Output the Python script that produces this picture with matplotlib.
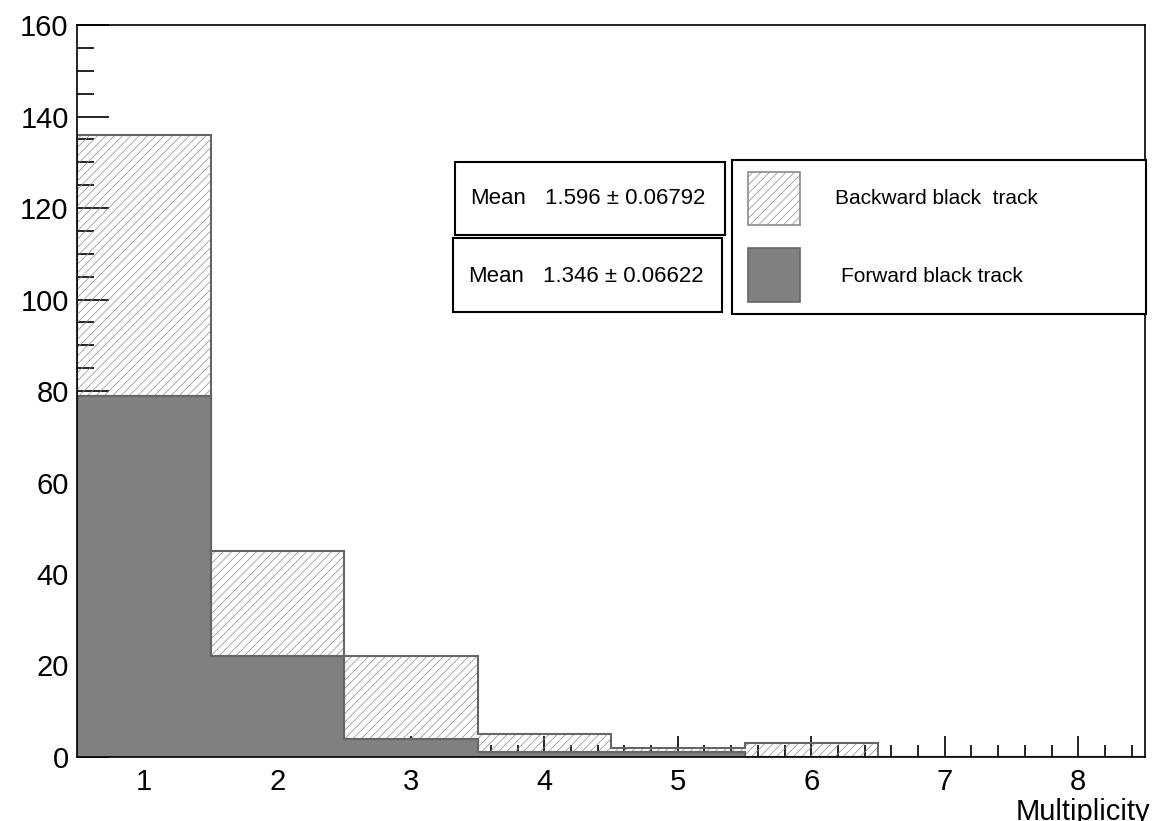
import numpy as np
import matplotlib.pyplot as plt
from matplotlib.patches import Rectangle
from matplotlib.ticker import MultipleLocator

plt.rcParams['font.family'] = ['Liberation Sans', 'DejaVu Sans']
plt.rcParams['hatch.linewidth'] = 0.5

# multiplicity bins 1..8
bins = [1, 2, 3, 4, 5, 6, 7, 8]
backward = [136, 45, 22, 5, 2, 3, 0, 0]
forward = [79, 22, 4, 1, 1, 0, 0, 0]
mean_back = "1.596"
err_back = "0.06792"
mean_fwd = "1.346"
err_fwd = "0.06622"

W, H = 1156, 821
fig = plt.figure(figsize=(W / 100, H / 100), dpi=100)
ax = fig.add_axes([77 / W, 1 - 757 / H, (1145 - 77) / W, (757 - 25) / H])

edges = np.arange(len(bins) + 1) + 0.5
ax.stairs(backward, edges, fill=True, facecolor='none', edgecolor='#8a8a8a',
          hatch='////', linewidth=0)
ax.stairs(backward, edges, color='#666666', linewidth=1.5)
ax.stairs(forward, edges, fill=True, facecolor='#808080', edgecolor='#666666',
          linewidth=1.5)
ax.stairs(forward, edges, color='#666666', linewidth=1.5)

ax.set_xlim(0.5, 8.5)
ax.set_ylim(0, 160)
ax.set_axisbelow(True)
ax.xaxis.set_major_locator(MultipleLocator(1))
ax.xaxis.set_minor_locator(MultipleLocator(0.2))
ax.yaxis.set_major_locator(MultipleLocator(20))
ax.yaxis.set_minor_locator(MultipleLocator(5))
ax.tick_params(axis='both', which='both', direction='in', top=False, right=False,
               labelsize=21, width=1.2, color='black')
ax.tick_params(axis='y', which='major', length=23, pad=6)
ax.tick_params(axis='y', which='minor', length=12)
ax.tick_params(axis='x', which='major', length=15, pad=8)
ax.tick_params(axis='x', which='minor', length=8.5)
for s in ax.spines.values():
    s.set_linewidth(1.2)

fig.text(1150 / W, 1 - 798 / H, "Multiplicity", ha='right', va='top', fontsize=21)


def px(x, y):
    return x / W, 1 - y / H


def box(x0, y0, x1, y1, **kw):
    r = Rectangle(px(x0, y1), (x1 - x0) / W, (y1 - y0) / H,
                  transform=fig.transFigure, **kw)
    fig.add_artist(r)


# stat boxes
box(455, 162, 725, 235, facecolor='white', edgecolor='black', linewidth=1.5)
box(453, 238, 722, 312, facecolor='white', edgecolor='black', linewidth=1.5)
fig.text(*px(470, 199), "Mean", va='center', fontsize=16)
fig.text(*px(545, 199), f"{mean_back} \u00b1 {err_back}", va='center', fontsize=16)
fig.text(*px(468, 276), "Mean", va='center', fontsize=16)
fig.text(*px(543, 276), f"{mean_fwd} \u00b1 {err_fwd}", va='center', fontsize=16)

# legend
box(732, 160, 1146, 314, facecolor='white', edgecolor='black', linewidth=1.5)
box(748, 172, 800, 225, facecolor='white', edgecolor='#8a8a8a', hatch='////',
    linewidth=1.2)
box(748, 248, 800, 302, facecolor='#808080', edgecolor='#666666', linewidth=1.2)
fig.text(*px(835, 199), "Backward black  track", va='center', fontsize=15)
fig.text(*px(841, 277), "Forward black track", va='center', fontsize=15)

plt.savefig("out.png", dpi=100, facecolor='w')
